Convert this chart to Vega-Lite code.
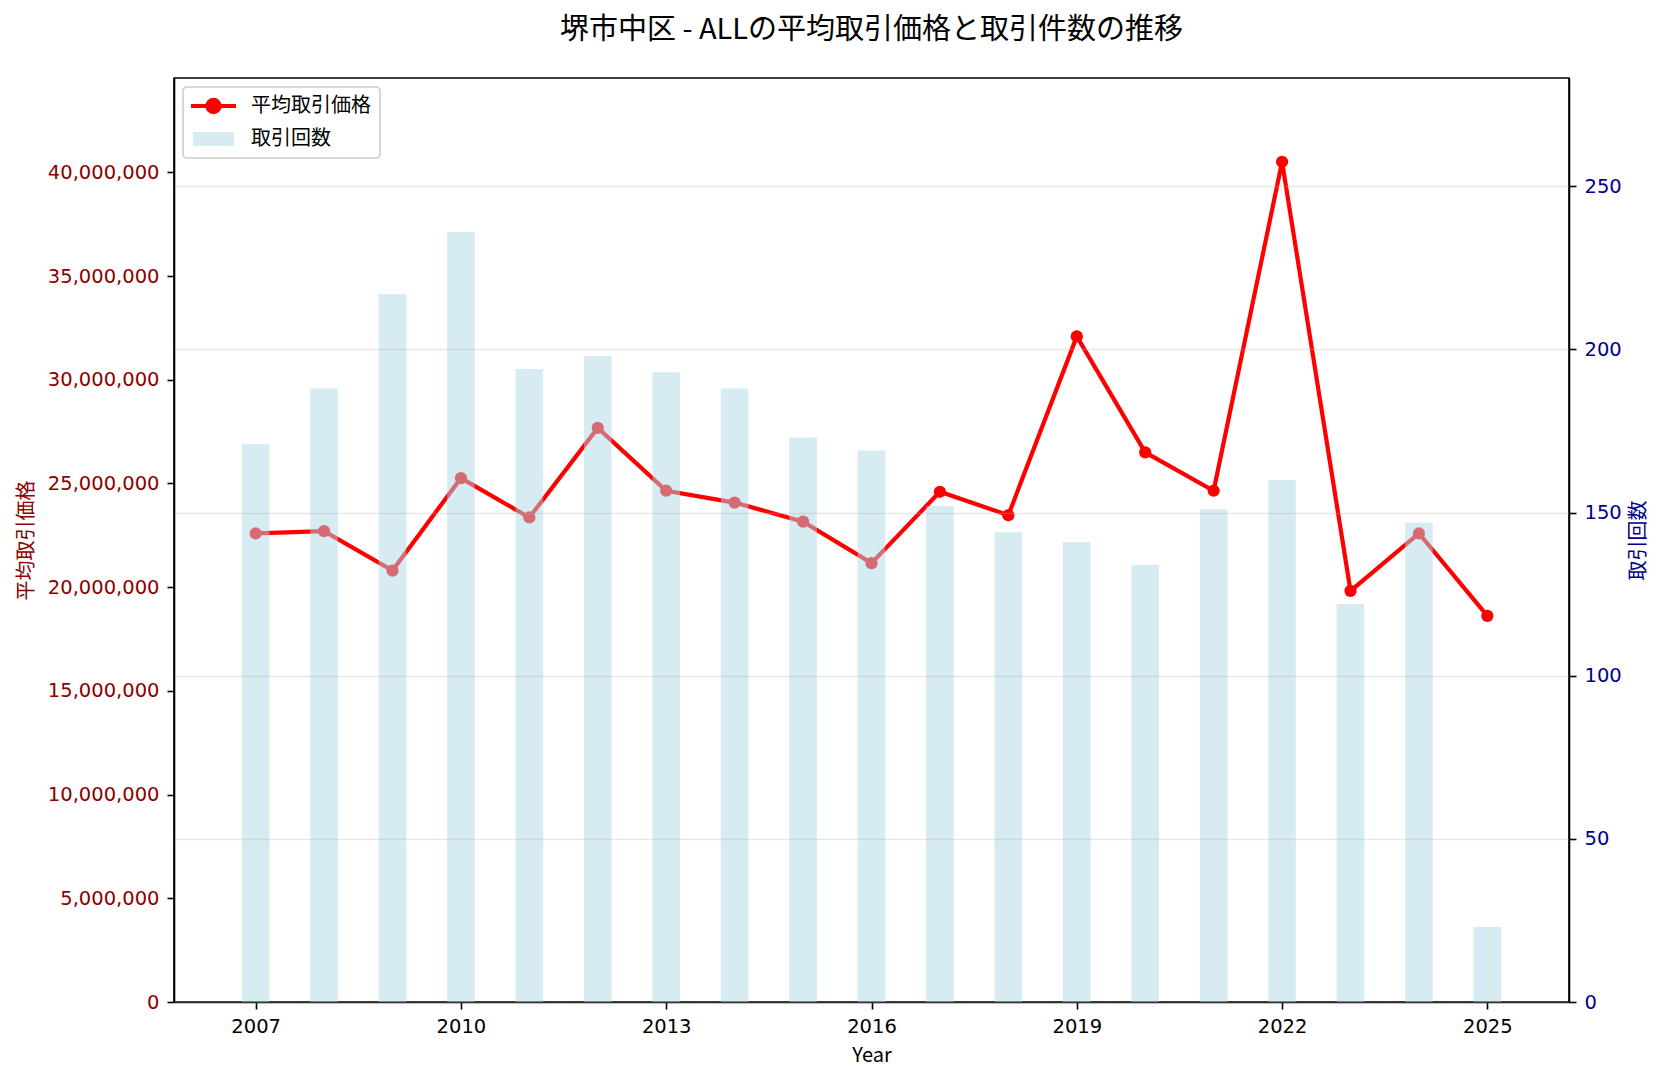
{
  "$schema": "https://vega.github.io/schema/vega-lite/v6.json",
  "width": 1395,
  "height": 924,
  "autosize": {"type": "none"},
  "padding": {"left": 174, "top": 78, "right": 97, "bottom": 78},
  "background": "white",
  "title": {
    "text": "堺市中区 - ALLの平均取引価格と取引件数の推移",
    "fontSize": 29,
    "font": "Noto Sans CJK JP",
    "fontWeight": "normal",
    "color": "black",
    "anchor": "middle",
    "offset": 33
  },
  "config": {
    "font": "Noto Sans CJK JP",
    "view": {"stroke": "black", "strokeWidth": 1.6},
    "axis": {
      "labelFont": "DejaVu Sans",
      "titleFont": "Noto Sans CJK JP",
      "labelFontSize": 19.5,
      "titleFontSize": 20,
      "titleFontWeight": "normal",
      "labelColor": "black",
      "titleColor": "black",
      "domainColor": "black",
      "domainWidth": 1.6,
      "tickColor": "black",
      "tickWidth": 1.6,
      "tickSize": 7,
      "labelPadding": 8,
      "grid": false
    }
  },
  "data": {
    "values": [
      {"year": 2007, "price": 22590000, "count": 171},
      {"year": 2008, "price": 22700000, "count": 188},
      {"year": 2009, "price": 20800000, "count": 217},
      {"year": 2010, "price": 25260000, "count": 236},
      {"year": 2011, "price": 23360000, "count": 194},
      {"year": 2012, "price": 27680000, "count": 198},
      {"year": 2013, "price": 24650000, "count": 193},
      {"year": 2014, "price": 24080000, "count": 188},
      {"year": 2015, "price": 23160000, "count": 173},
      {"year": 2016, "price": 21160000, "count": 169},
      {"year": 2017, "price": 24600000, "count": 152},
      {"year": 2018, "price": 23470000, "count": 144},
      {"year": 2019, "price": 32090000, "count": 141},
      {"year": 2020, "price": 26500000, "count": 134},
      {"year": 2021, "price": 24650000, "count": 151},
      {"year": 2022, "price": 40510000, "count": 160},
      {"year": 2023, "price": 19820000, "count": 122},
      {"year": 2024, "price": 22590000, "count": 147},
      {"year": 2025, "price": 18620000, "count": 23}
    ]
  },
  "layer": [
    {
      "encoding": {
        "x": {
          "field": "year",
          "type": "quantitative",
          "scale": {"domain": [2005.88, 2026.12], "nice": false, "zero": false},
          "axis": {"values": [2007, 2010, 2013, 2016, 2019, 2022, 2025], "format": "d", "title": "Year", "titlePadding": 10}
        },
        "y": {
          "field": "price",
          "type": "quantitative",
          "scale": {"domain": [0, 44550000], "nice": false},
          "axis": {
            "orient": "left",
            "values": [0, 5000000, 10000000, 15000000, 20000000, 25000000, 30000000, 35000000, 40000000],
            "format": ",d",
            "title": "平均取引価格",
            "labelColor": "#8B0000",
            "titleColor": "#8B0000",
            "titlePadding": 11
          }
        }
      },
      "layer": [
        {
          "mark": {"type": "line", "strokeWidth": 4.2},
          "encoding": {
            "color": {
              "datum": "平均取引価格",
              "scale": {"domain": ["平均取引価格", "取引回数"], "range": ["#FF0000", "#ADD8E6"]},
              "legend": {
                "title": null,
                "orient": "top-left",
                "offset": 9,
                "padding": 9,
                "strokeColor": "#cccccc",
                "cornerRadius": 4,
                "fillColor": "white",
                "labelFont": "Noto Sans CJK JP",
                "labelFontSize": 20,
                "labelColor": "black",
                "labelOffset": 39,
                "symbolSize": 2025,
                "rowPadding": 8,
                "encode": {
                  "legend": {"update": {"strokeWidth": {"value": 1.6}}},
                  "symbols": {
                    "update": {
                      "shape": {"signal": "datum.value === '平均取引価格' ? 'M-0.49,0L1.51,0M0.78,0A0.27,0.27,0,1,1,0.24,0A0.27,0.27,0,1,1,0.78,0Z' : 'M-0.4,-0.31L1.42,-0.31L1.42,0.31L-0.4,0.31Z'"},
                      "fill": {"signal": "datum.value === '平均取引価格' ? '#FF0000' : '#ADD8E6'"},
                      "stroke": {"signal": "datum.value === '平均取引価格' ? '#FF0000' : 'transparent'"},
                      "strokeWidth": {"signal": "datum.value === '平均取引価格' ? 4.2 : 0"},
                      "opacity": {"signal": "datum.value === '平均取引価格' ? 1 : 0.5"},
                      "fillOpacity": {"value": 1},
                      "strokeOpacity": {"value": 1}
                    }
                  }
                }
              }
            }
          }
        },
        {
          "mark": {"type": "point", "filled": true, "size": 150, "opacity": 1},
          "encoding": {
            "color": {"datum": "平均取引価格"}
          }
        }
      ]
    },
    {
      "mark": {"type": "bar", "width": 27.6, "opacity": 0.5},
      "encoding": {
        "x": {"field": "year", "type": "quantitative", "scale": {"domain": [2005.88, 2026.12], "nice": false, "zero": false}},
        "y": {
          "field": "count",
          "type": "quantitative",
          "scale": {"domain": [0, 283.2], "nice": false},
          "axis": {
            "orient": "right",
            "values": [0, 50, 100, 150, 200, 250],
            "title": "取引回数",
            "labelColor": "#00008B",
            "titleColor": "#00008B",
            "titleAngle": 270,
            "titleBaseline": "top",
            "titlePadding": 7,
            "grid": true,
            "gridColor": "#b0b0b0",
            "gridOpacity": 0.3,
            "gridWidth": 1.6,
            "zindex": 1
          }
        },
        "color": {"datum": "取引回数"}
      }
    }
  ],
  "resolve": {"scale": {"y": "independent"}}
}
